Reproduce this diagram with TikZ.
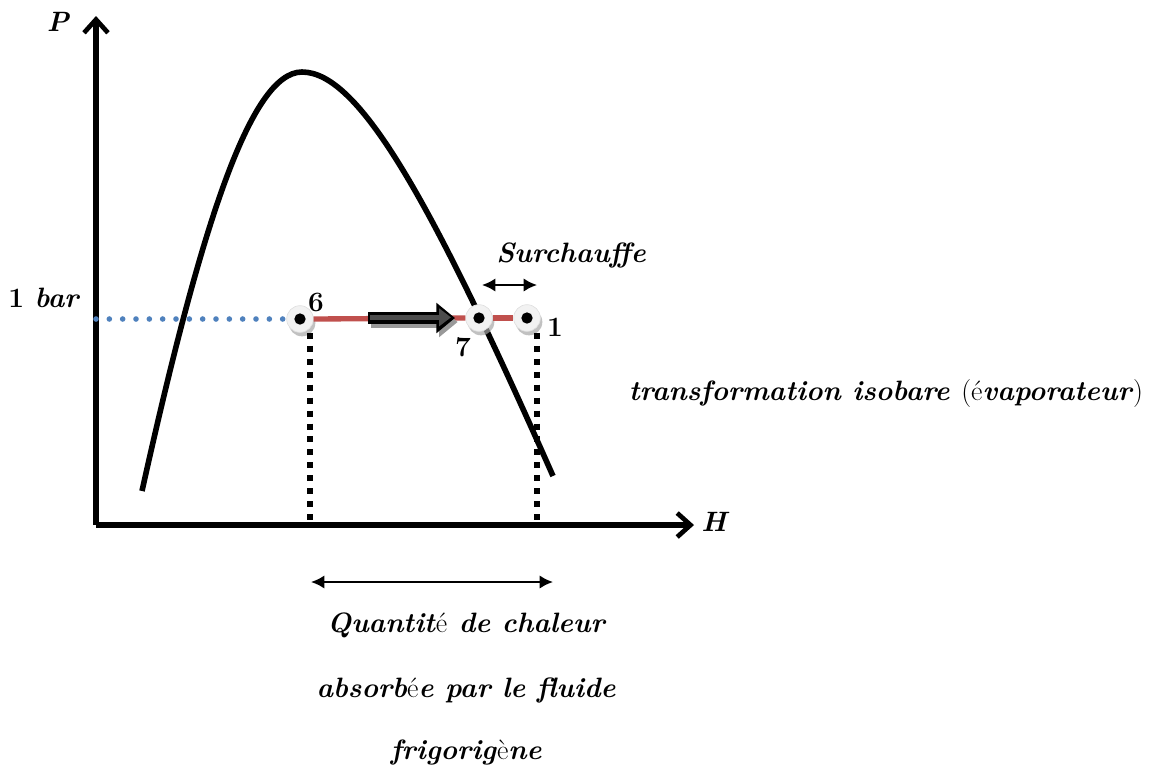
\documentclass[tikz,border=0pt]{standalone}
\usetikzlibrary{arrows.meta,shadows}
\definecolor{redline}{RGB}{192,80,77}
\definecolor{blueline}{RGB}{79,129,189}
\begin{document}
\begin{tikzpicture}[x=0.75pt,y=-0.75pt,
  lbl/.style={font=\fontsize{21}{24}\selectfont\bfseries\itshape, inner sep=0pt},
  num/.style={font=\fontsize{21}{24}\selectfont\bfseries, inner sep=0pt},
  axis/.style={line width=4pt, -{Straight Barb[length=10pt,width=18pt,line width=3.5pt]}},
  ptnode/.style={circle, minimum size=20pt, inner sep=0pt, fill=white!95!black, draw=white!88!black, line width=0.5pt,
    drop shadow={shadow xshift=1.5pt, shadow yshift=-3pt, fill=black!35, opacity=0.7}},
  dotfill/.style={circle, fill=black, minimum size=8.5pt, inner sep=0pt},
  vdot/.style={line width=4.5pt, dash pattern=on 4.5pt off 5.2pt},
  dimarrow/.style={line width=1.6pt, {Latex[length=10pt,width=10pt]}-{Latex[length=10pt,width=10pt]}}
]
\useasboundingbox (0,0) rectangle (1176,769);
% axes
\coordinate (O) at (96,525);
\coordinate (ytop) at (96,16);
\coordinate (xend) at (694,525);
\draw[axis] (O) -- (ytop);
\draw[axis] (O) -- (xend);
\node[lbl] (P) at (58,22) {P};
\node[lbl] (H) at (714,522) {H};
% saturation curve
\coordinate (cL) at (142,491);
\coordinate (cT) at (302,72);
\coordinate (cR) at (553,476);
\draw[line width=4.2pt] (cL) .. controls (200,230) and (250,72) .. (cT)
  .. controls (360,72) and (433,205) .. (cR);
% points
\node[ptnode] (p6) at (300,319) {};
\node[ptnode] (p7) at (479,318) {};
\node[ptnode] (p1) at (527,318) {};
% blue dotted isobar
\coordinate (b0) at (96,319);
\draw[blueline, line width=4.2pt, dash pattern=on 0pt off 10pt, line cap=round] (b0) -- (p6.west);
% red line
\draw[redline, line width=4pt] (p6.east) -- (p7.west);
\draw[redline, line width=4pt] (p7.east) -- (p1.west);
\node[dotfill] at (p6) {};
\node[dotfill] at (p7) {};
\node[dotfill] at (p1) {};
% thick direction arrow
\coordinate (a0) at (368,318);
\coordinate (a1) at (455,318);
\draw[black!40, line width=9pt, -{Triangle[length=14pt,width=22pt]}, transform canvas={xshift=2pt,yshift=-3pt}] (a0) -- (a1);
\draw[black, line width=9pt, -{Triangle[length=14pt,width=22pt]}] (a0) -- (a1);
\draw[black!70, line width=4pt, -{Triangle[length=9pt,width=13pt]}, shorten >=3pt, transform canvas={yshift=0.5pt}] (a0) ++(2,0) -- (a1);
% vertical dotted lines
\coordinate (v6a) at (310,333);
\coordinate (v6b) at (310,523);
\coordinate (v1a) at (537,333);
\coordinate (v1b) at (537,523);
\draw[vdot] (v6a) -- (v6b);
\draw[vdot] (v1a) -- (v1b);
% point labels
\node[num] (l6) at (316,302) {6};
\node[num] (l7) at (463,347) {7};
\node[num] (l1) at (555,327) {1};
\node[lbl, anchor=west] (bar) at (8,298) {\upshape 1 \itshape bar};
% surchauffe
\node[lbl] (sur) at (571,255) {Surchauffe};
\coordinate (s0) at (482,285);
\coordinate (s1) at (537,285);
\draw[dimarrow] (s0) -- (s1);
\node[lbl] (tr) at (886,393) {transformation isobare \textup{\mdseries(é}vaporateur\textup{\mdseries)}};
% quantity
\coordinate (q0) at (311,582);
\coordinate (q1) at (553,582);
\draw[dimarrow] (q0) -- (q1);
\node[lbl] (t1) at (466,625) {Quantit\textup{\mdseries é} de chaleur};
\node[lbl] (t2) at (466,690) {absorb\textup{\mdseries é}e par le fluide};
\node[lbl] (t3) at (466,752) {frigorig\textup{\mdseries è}ne};
\end{tikzpicture}
\end{document}
